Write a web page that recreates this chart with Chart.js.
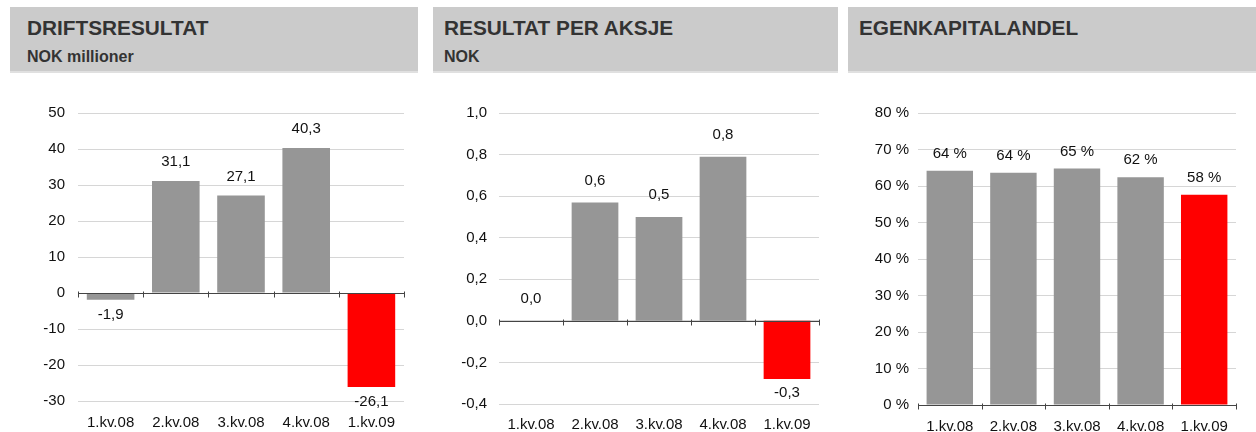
<!DOCTYPE html>
<html>
<head>
<meta charset="utf-8">
<script src="https://cdn.jsdelivr.net/npm/chart.js@4.4.1/dist/chart.umd.min.js"></script>
<style>
  body { margin: 0; background: #fff; width: 1256px; height: 432px; position: relative; overflow: hidden;
         font-family: "Liberation Sans", Arial, sans-serif; }
  .hdr { position: absolute; top: 7px; height: 64px; background: #cbcbcb; border-bottom: 2px solid #e0e0e0; color: #333; }
  .hdr .t { position: absolute; top: 11px; font-weight: bold; font-size: 20.8px; line-height: 20px; white-space: nowrap; }
  .hdr .s { position: absolute; top: 42px; font-weight: bold; font-size: 16px; line-height: 15px; white-space: nowrap; }
  .box { position: absolute; }
</style>
</head>
<body>
<div class="hdr" style="left:10px;width:408px"><div class="t" style="left:17px">DRIFTSRESULTAT</div><div class="s" style="left:17px">NOK millioner</div></div>
<div class="hdr" style="left:433px;width:405px"><div class="t" style="left:11px">RESULTAT PER AKSJE</div><div class="s" style="left:11px">NOK</div></div>
<div class="hdr" style="left:848px;width:408px"><div class="t" style="left:11px">EGENKAPITALANDEL</div></div>

<div class="box" style="left:10px;top:90px"><canvas id="c1" width="410" height="355"></canvas></div>
<div class="box" style="left:430px;top:90px"><canvas id="c2" width="400" height="356"></canvas></div>
<div class="box" style="left:846px;top:90px"><canvas id="c3" width="410" height="359"></canvas></div>

<script>
// data
const quarters = ['1.kv.08', '2.kv.08', '3.kv.08', '4.kv.08', '1.kv.09'];
const driftsresultat = [-1.9, 31.1, 27.1, 40.3, -26.1];      // NOK millioner
const resultatPerAksje = [0.0, 0.57, 0.50, 0.79, -0.28];      // NOK
const egenkapitalandel = [64.2, 63.6, 64.8, 62.4, 57.6];      // %

const range1 = [-30, 50, 10];
const range2 = [-0.4, 1.0, 0.2];
const range3 = [0, 80, 10];

const GREY = '#969696';
const RED = '#ff0000';
const barColors = quarters.map((q, i) => i === quarters.length - 1 ? RED : GREY);

Chart.defaults.font.family = '"Liberation Sans", Arial, sans-serif';
Chart.defaults.font.size = 15;
Chart.defaults.color = '#111';

// 1 decimal with comma, no "-0,0"
const comma = (v, d) => {
    const s = (Math.abs(v) < 1e-9 ? 0 : v).toFixed(d);
    return s.replace('.', ',');
};

// zero line with small ticks between categories
const zeroAxis = {
    id: 'zeroAxis',
    afterDatasetsDraw(chart) {
        const { ctx, chartArea: a } = chart;
        const y = Math.round(chart.scales.y.getPixelForValue(0)) + 0.5;
        const n = quarters.length;
        ctx.save();
        ctx.strokeStyle = '#444';
        ctx.lineWidth = 1;
        ctx.beginPath();
        ctx.moveTo(a.left, y);
        ctx.lineTo(a.right, y);
        for (let i = 0; i <= n; i++) {
            const x = Math.round(a.left + i * (a.right - a.left) / n) + 0.5;
            ctx.moveTo(x, y - 2);
            ctx.lineTo(x, y + 4);
        }
        ctx.stroke();
        ctx.restore();
    }
};

// value labels above / below the bars
const valueLabels = {
    id: 'valueLabels',
    afterDatasetsDraw(chart, args, opts) {
        const { ctx } = chart;
        const meta = chart.getDatasetMeta(0);
        const vals = chart.data.datasets[0].data;
        ctx.save();
        ctx.font = '15px "Liberation Sans", Arial, sans-serif';
        ctx.fillStyle = '#111';
        ctx.textAlign = 'center';
        ctx.textBaseline = 'middle';
        meta.data.forEach((bar, i) => {
            const v = vals[i];
            const y = v >= 0 ? bar.y - opts.up : bar.y + opts.down;
            ctx.fillText(opts.fmt(v), bar.x, y);
        });
        ctx.restore();
    }
};

function makeChart(id, values, range, yWidth, yPad, xPad, padRight, yFmt, labelFmt, up, down) {
    return new Chart(document.getElementById(id), {
        type: 'bar',
        data: {
            labels: quarters,
            datasets: [{
                data: values,
                backgroundColor: barColors,
                barPercentage: 0.73,
                categoryPercentage: 1
            }]
        },
        options: {
            responsive: false,
            animation: false,
            layout: { padding: { top: 23, right: padRight, bottom: 0, left: 0 } },
            plugins: {
                legend: { display: false },
                tooltip: { enabled: false },
                valueLabels: { fmt: labelFmt, up: up, down: down }
            },
            scales: {
                x: {
                    grid: { display: false, drawTicks: false },
                    border: { display: false },
                    ticks: { padding: xPad, color: '#111', font: { size: 15 } }
                },
                y: {
                    min: range[0],
                    max: range[1],
                    ticks: { stepSize: range[2], padding: yPad, color: '#111', font: { size: 15 }, callback: yFmt },
                    grid: { color: '#d6d6d6', drawTicks: false },
                    border: { display: false },
                    afterFit: s => { s.width = yWidth; }
                }
            }
        },
        plugins: [zeroAxis, valueLabels]
    });
}

makeChart('c1', driftsresultat, range1, 68, 13, 13, 16,
    v => String(Math.round(v)), v => comma(v, 1), 19, 15);
makeChart('c2', resultatPerAksje, range2, 69, 12, 12, 11,
    v => comma(v, 1), v => comma(v, 1), 22, 14);
makeChart('c3', egenkapitalandel, range3, 72, 9, 13, 20,
    v => Math.round(v) + ' %', v => Math.round(v) + ' %', 17, 14);
</script>
</body>
</html>
